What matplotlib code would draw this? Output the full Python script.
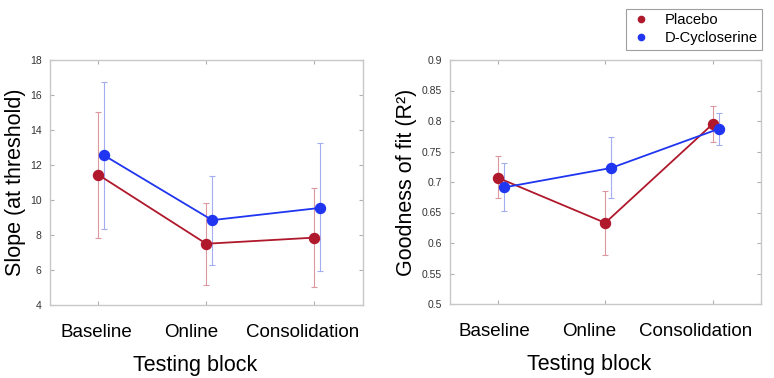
import matplotlib
matplotlib.use("Agg")
import matplotlib.pyplot as plt
import matplotlib.transforms as mtransforms
import numpy as np
from matplotlib.lines import Line2D

plt.rcParams['font.family'] = ['Liberation Sans', 'DejaVu Sans']

categories = ["Baseline", "Online", "Consolidation"]
series_names = ["Placebo", "D-Cycloserine"]

slope_placebo = [11.45, 7.5, 7.85]
slope_placebo_lo = [7.85, 5.15, 5.05]
slope_placebo_hi = [15.05, 9.85, 10.7]
slope_dcs = [12.55, 8.85, 9.55]
slope_dcs_lo = [8.35, 6.3, 5.95]
slope_dcs_hi = [16.75, 11.4, 13.25]

r2_placebo = [0.707, 0.633, 0.795]
r2_placebo_lo = [0.673, 0.581, 0.765]
r2_placebo_hi = [0.742, 0.686, 0.824]
r2_dcs = [0.691, 0.723, 0.787]
r2_dcs_lo = [0.652, 0.674, 0.761]
r2_dcs_hi = [0.731, 0.774, 0.813]

slope_ticks = [4, 6, 8, 10, 12, 14, 16, 18]
r2_ticks = [0.5, 0.55, 0.6, 0.65, 0.7, 0.75, 0.8, 0.85, 0.9]
r2_ticklabels = ["0.5", "0.55", "0.6", "0.65", "0.7", "0.75", "0.8", "0.85", "0.9"]

RED = "#b0182c"
BLUE = "#1f35f0"
ERR_RED = "#dc98a1"
ERR_BLUE = "#a5adf2"
SPINE = "#c8c8c8"

fig = plt.figure(figsize=(7.74, 3.78), dpi=100)
W, H = 774, 378
ax1 = fig.add_axes([50 / W, 1 - 305 / H, 313 / W, 245 / H])
ax2 = fig.add_axes([450 / W, 1 - 304 / H, 311 / W, 244 / H])

x = np.arange(1, len(categories) + 1)
off = 0.055


def draw(ax, pv, plo, phi, dv, dlo, dhi, label_shift, xlabel_x):
    pv, plo, phi = map(np.array, (pv, plo, phi))
    dv, dlo, dhi = map(np.array, (dv, dlo, dhi))
    ax.errorbar(x, pv, yerr=[pv - plo, phi - pv], fmt='none', ecolor=ERR_RED,
                elinewidth=0.8, capsize=2.5, capthick=0.8, zorder=1)
    ax.errorbar(x + off, dv, yerr=[dv - dlo, dhi - dv], fmt='none', ecolor=ERR_BLUE,
                elinewidth=0.8, capsize=2.5, capthick=0.8, zorder=1)
    ax.plot(x, pv, '-o', color=RED, lw=1.3, ms=7.2, zorder=3, label=series_names[0])
    ax.plot(x + off, dv, '-o', color=BLUE, lw=1.3, ms=7.2, zorder=4, label=series_names[1])
    ax.set_xlim(0.555, 3.45)
    ax.set_xticks(x)
    ax.set_xticklabels(categories, fontsize=13.5)
    ax.tick_params(axis='x', which='both', direction='in', length=3, color='#b0b0b0',
                   pad=14, top=True)
    ax.tick_params(axis='y', which='both', direction='in', length=3, color='#b0b0b0',
                   labelsize=7.5, labelcolor='#333333', right=True, pad=6)
    for lab, dx in zip(ax.get_xticklabels(), label_shift):
        lab.set_transform(lab.get_transform() +
                          mtransforms.ScaledTranslation(dx / 100, 0, fig.dpi_scale_trans))
    for s in ax.spines.values():
        s.set_color(SPINE)
        s.set_linewidth(1.0)
    ax.set_xlabel("Testing block", fontsize=15.5)
    ax.xaxis.set_label_coords(xlabel_x, -0.205)


draw(ax1, slope_placebo, slope_placebo_lo, slope_placebo_hi,
     slope_dcs, slope_dcs_lo, slope_dcs_hi, [-2, -15, -12], 0.465)
ax1.set_ylim(4, 18)
ax1.set_yticks(slope_ticks)
ax1.set_ylabel("Slope (at threshold)", fontsize=15.5, labelpad=3)

draw(ax2, r2_placebo, r2_placebo_lo, r2_placebo_hi,
     r2_dcs, r2_dcs_lo, r2_dcs_hi, [-3, -16, -17], 0.448)
ax2.set_ylim(0.5, 0.9)
ax2.set_yticks(r2_ticks)
ax2.set_yticklabels(r2_ticklabels)
ax2.set_ylabel("Goodness of fit (R\u00b2)", fontsize=15.5, labelpad=3)

handles = [Line2D([], [], ls='none', marker='o', ms=4.5, color=RED),
           Line2D([], [], ls='none', marker='o', ms=4.5, color=BLUE)]
leg = fig.legend(handles, series_names, loc='upper left',
                 bbox_to_anchor=(626 / W, 1 - 9 / H), fontsize=10.6,
                 frameon=True, fancybox=False, edgecolor='#888888',
                 handlelength=1.5, borderpad=0.3, labelspacing=0.25,
                 handletextpad=0.8, borderaxespad=0)
leg.get_frame().set_linewidth(0.8)

fig.savefig("out.png", dpi=100)
